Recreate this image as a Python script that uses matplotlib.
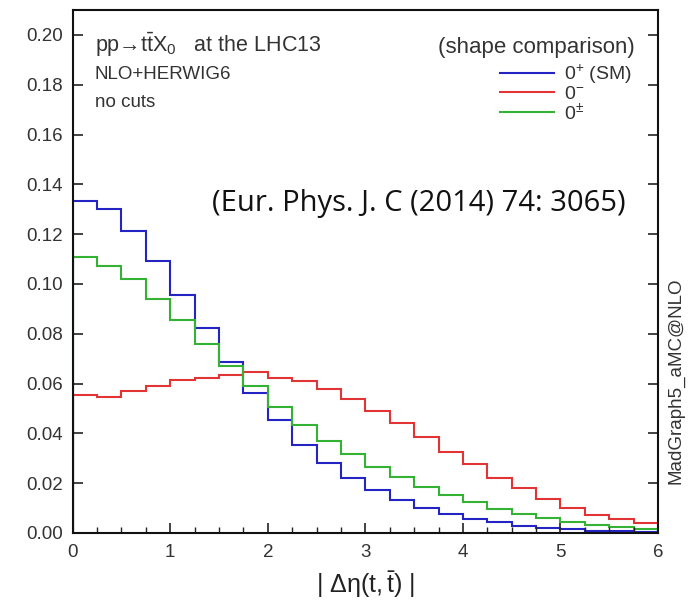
import numpy as np
import matplotlib
matplotlib.use("Agg")
import matplotlib.pyplot as plt

plt.rcParams['font.family'] = ['Liberation Sans', 'DejaVu Sans']
plt.rcParams['mathtext.fontset'] = 'custom'
plt.rcParams['mathtext.rm'] = 'Liberation Sans'
plt.rcParams['mathtext.it'] = 'Liberation Sans'
plt.rcParams['mathtext.bf'] = 'Liberation Sans:bold'

# bin edges of |delta eta(t, tbar)|
edges = np.arange(0, 6.01, 0.25)

# 0+ (SM)
scalar = [0.1332, 0.1301, 0.1214, 0.1094, 0.0954, 0.0823, 0.0687, 0.0562,
          0.0453, 0.0355, 0.0282, 0.0219, 0.0172, 0.0132, 0.0099, 0.0075,
          0.0056, 0.0043, 0.0029, 0.0021, 0.0015, 0.0010, 0.0006, 0.0004]
# 0-
pseudo = [0.0553, 0.0548, 0.0569, 0.0589, 0.0613, 0.0624, 0.0634, 0.0645,
          0.0624, 0.0610, 0.0580, 0.0537, 0.0490, 0.0440, 0.0384, 0.0326,
          0.0277, 0.0219, 0.0179, 0.0136, 0.0101, 0.0072, 0.0055, 0.0040]
# 0+-
mixed = [0.1107, 0.1074, 0.1021, 0.0941, 0.0854, 0.0760, 0.0669, 0.0589,
         0.0506, 0.0433, 0.0370, 0.0317, 0.0266, 0.0223, 0.0183, 0.0152,
         0.0123, 0.0095, 0.0075, 0.0059, 0.0043, 0.0032, 0.0023, 0.0016]

labels = [r'0$^{+}$ (SM)', r'0$^{-}$', r'0$^{\pm}$']
colors = ['#2424c4', '#e23434', '#34b234']

fig = plt.figure(figsize=(6.88, 6.03), dpi=100)
ax = fig.add_axes([0.1057, 0.1161, 0.9564 - 0.1057, 0.9834 - 0.1161])

for vals, lab, col in zip([scalar, pseudo, mixed], labels, colors):
    ax.stairs(vals, edges, color=col, lw=1.5, label=lab)

ax.set_xlim(0, 6)
ax.set_ylim(0, 0.21)
yt = np.arange(0, 0.201, 0.02)
ax.set_yticks(yt)
ax.set_yticklabels([f'{v:.2f}' for v in yt])
ax.set_xticks(range(7))
ax.set_xticks(edges, minor=True)
ax.tick_params(axis='both', which='major', direction='in', length=7,
               width=1.2, labelsize=13.5, colors='#222222', labelcolor='#333333')
ax.tick_params(axis='x', which='minor', direction='in', length=4, width=1.0,
               color='#222222')
ax.tick_params(axis='y', right=True, which='major', pad=7)
ax.tick_params(axis='x', pad=8)
for s in ax.spines.values():
    s.set_linewidth(1.5)
    s.set_color('#111111')

ax.set_xlabel(r'$|\ \Delta\eta(\mathrm{t},\bar{\mathrm{t}})\ |$', fontsize=18,
              color='#222222', labelpad=6)

ax.text(0.038, 0.933, 'pp→t$\\bar{\\mathrm{t}}$X$_0$   at the LHC13',
        transform=ax.transAxes, fontsize=15.5, color='#333333', va='center')
ax.text(0.038, 0.876, 'NLO+HERWIG6', transform=ax.transAxes, fontsize=13.5,
        color='#333333', va='center')
ax.text(0.038, 0.824, 'no cuts', transform=ax.transAxes, fontsize=13.5,
        color='#333333', va='center')
ax.text(0.961, 0.929, '(shape comparison)', transform=ax.transAxes,
        fontsize=16, color='#333333', ha='right', va='center')

leg = ax.legend(loc='upper right', bbox_to_anchor=(0.975, 0.921), frameon=False,
                fontsize=14, handlelength=2.8, handletextpad=0.5,
                labelspacing=-0.05, borderpad=0.1)
for t in leg.get_texts():
    t.set_color('#333333')

ax.text(0.944, 0.63, '(Eur. Phys. J. C (2014) 74: 3065)', transform=ax.transAxes,
        fontsize=21, family='Open Sans', color='#111111', ha='right', va='center')

fig.text(0.983, 0.368, 'MadGraph5_aMC@NLO', rotation=90, fontsize=13.5,
         color='#333333', ha='center', va='center')

fig.savefig('out.png', dpi=100)
